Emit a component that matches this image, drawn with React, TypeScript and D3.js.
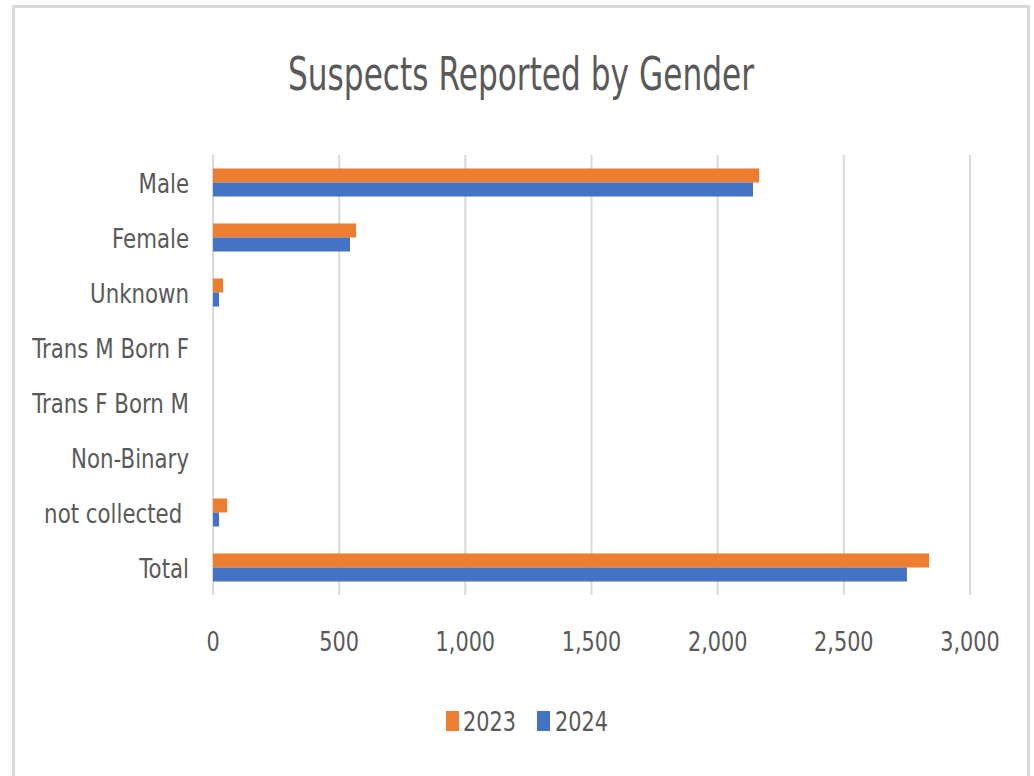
import React from "react";
import * as d3 from "d3";

const categories = ["Male", "Female", "Unknown", "Trans M Born F", "Trans F Born M", "Non-Binary", "not collected ", "Total"];
const values2023 = [2164, 567, 40, 0, 0, 0, 56, 2838];
const values2024 = [2140, 543, 24, 0, 0, 0, 24, 2750];
const seriesNames = ["2023", "2024"];
const seriesColors = ["#ED7D31", "#4472C4"];
const xTicks = [0, 500, 1000, 1500, 2000, 2500, 3000];

const W = 1034;
const H = 776;
const FONT = "'DejaVu Sans', 'Open Sans', sans-serif";
const TEXT = "#595959";

function SText(props: { x: number; y: number; sx: number; anchor: string; size: number; children: React.ReactNode }) {
  return (
    <text
      transform={`translate(${props.x},${props.y}) scale(${props.sx},1)`}
      textAnchor={props.anchor}
      fontSize={props.size}
      fill={TEXT}
      style={{ whiteSpace: "pre" }}
    >
      {props.children}
    </text>
  );
}

export default function App() {
  const x = d3.scaleLinear().domain([0, 3000]).range([213, 970]);
  const y = d3.scaleBand<string>().domain(categories).range([155, 595]).paddingInner(0.49).paddingOuter(0.245);
  const inner = d3.scaleBand<string>().domain(seriesNames).range([0, y.bandwidth()]);
  const fmt = d3.format(",");
  const series = [values2023, values2024];

  return (
    <svg width={W} height={H} style={{ position: "absolute", left: 0, top: 0 }} fontFamily={FONT}>
      <rect x={0} y={0} width={W} height={H} fill="#fff" />
      <rect x={13.5} y={6.5} width={1015} height={H + 10} fill="#fff" stroke="#d9d9d9" strokeWidth={3} />
      <text x={288} y={90} fontSize={47} fill={TEXT} textLength={466} lengthAdjust="spacingAndGlyphs">
        Suspects Reported by Gender
      </text>
      {xTicks.map((t) => (
        <g key={t}>
          <line x1={x(t)} x2={x(t)} y1={155} y2={595} stroke="#d9d9d9" strokeWidth={2} />
          <SText x={x(t)} y={651} sx={0.8} anchor="middle" size={26}>
            {fmt(t)}
          </SText>
        </g>
      ))}
      {categories.map((c, i) => (
        <g key={c}>
          <SText x={189} y={(y(c) ?? 0) + y.bandwidth() / 2 + 10} sx={0.82} anchor="end" size={26}>
            {c}
          </SText>
          {series.map((vals, s) =>
            vals[i] > 0 ? (
              <rect
                key={s}
                x={x(0)}
                y={(y(c) ?? 0) + (inner(seriesNames[s]) ?? 0)}
                width={x(vals[i]) - x(0)}
                height={inner.bandwidth()}
                fill={seriesColors[s]}
              />
            ) : null
          )}
        </g>
      ))}
      {seriesNames.map((n, s) => (
        <g key={n}>
          <rect x={[446, 537][s]} y={711} width={13} height={20} fill={seriesColors[s]} />
          <SText x={[463, 555][s]} y={731} sx={0.8} anchor="start" size={26}>
            {n}
          </SText>
        </g>
      ))}
    </svg>
  );
}
